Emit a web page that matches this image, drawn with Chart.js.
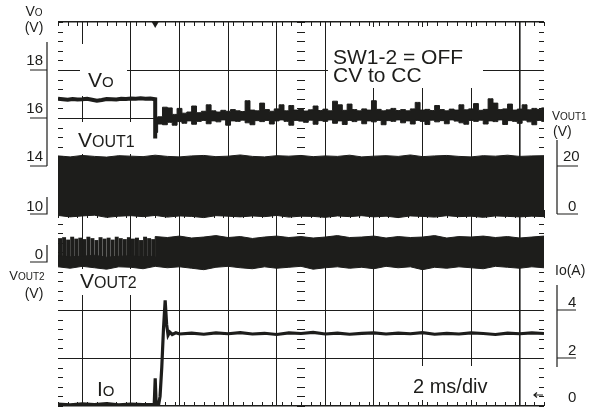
<!DOCTYPE html>
<html>
<head>
<meta charset="utf-8">
<script src="https://cdn.jsdelivr.net/npm/chart.js@4.4.1/dist/chart.umd.min.js"></script>
<style>
  html, body { margin: 0; padding: 0; background: #fff; }
</style>
</head>
<body>
<canvas id="scope" width="589" height="409"></canvas>
<script>
// time base in ms, 2 ms/div, trigger at 0
const tStart = -4, tEnd = 16;

// Vo (V), before the switch-over: one sample each 0.2 ms from -4 ms
const voPre = [16.80, 16.78, 16.76, 16.79, 16.77, 16.78, 16.80, 16.76, 16.72, 16.75,
  16.79, 16.78, 16.77, 16.80, 16.79, 16.81, 16.80, 16.82, 16.80, 16.81, 16.78];
const voDip = 15.15;
// Vo after the switch-over, upper / lower edge of the noisy trace, each 0.2 ms from 0
const voHi = [16.00, 16.05, 16.45, 16.42, 16.15, 16.40, 16.20, 16.25, 16.50, 16.22,
  16.28, 16.55, 16.30, 16.25, 16.32, 16.28, 16.35, 16.30, 16.27, 16.72,
  16.33, 16.30, 16.62, 16.35, 16.28, 16.38, 16.55, 16.30, 16.52, 16.33,
  16.36, 16.29, 16.34, 16.50, 16.31, 16.37, 16.30, 16.70, 16.55, 16.32,
  16.58, 16.35, 16.30, 16.38, 16.33, 16.72, 16.36, 16.30, 16.34, 16.40,
  16.31, 16.35, 16.30, 16.38, 16.65, 16.33, 16.36, 16.31, 16.52, 16.35,
  16.30, 16.37, 16.33, 16.55, 16.34, 16.38, 16.60, 16.32, 16.36, 16.80,
  16.62, 16.35, 16.38, 16.58, 16.33, 16.37, 16.55, 16.34, 16.40, 16.36, 16.42];
const voLo = [15.40, 15.75, 15.72, 15.82, 15.70, 15.85, 15.78, 15.88, 15.74, 15.86,
  15.90, 15.76, 15.88, 15.84, 15.92, 15.70, 15.88, 15.86, 15.91, 15.80,
  15.72, 15.89, 15.85, 15.90, 15.75, 15.88, 15.92, 15.86, 15.70, 15.90,
  15.87, 15.82, 15.91, 15.74, 15.89, 15.86, 15.92, 15.78, 15.88, 15.73,
  15.90, 15.85, 15.91, 15.76, 15.88, 15.84, 15.90, 15.72, 15.89, 15.86,
  15.92, 15.80, 15.88, 15.75, 15.90, 15.86, 15.73, 15.91, 15.84, 15.89,
  15.76, 15.92, 15.87, 15.80, 15.74, 15.90, 15.86, 15.91, 15.75, 15.88,
  15.85, 15.92, 15.73, 15.89, 15.86, 15.78, 15.91, 15.84, 15.72, 15.90, 15.86];
const voStep = 0.2;

// VOUT1 switching band (V), edges each 0.5 ms from -4 ms
const v1Hi = [24.2, 23.8, 24.4, 24.0, 23.7, 24.3, 24.1, 23.9, 24.5, 24.0,
  23.8, 24.2, 24.4, 23.9, 24.1, 24.6, 24.0, 23.8, 24.3, 24.1,
  24.4, 23.9, 24.2, 24.0, 24.5, 23.8, 24.1, 24.3, 24.0, 24.6,
  23.9, 24.2, 24.4, 24.0, 23.8, 24.3, 24.1, 24.5, 24.0, 24.2, 24.3];
const v1Lo = [-0.6, -1.2, -0.8, -0.5, -1.4, -0.9, -0.7, -1.1, -0.6, -1.3,
  -0.8, -1.0, -1.5, -0.7, -0.9, -1.2, -0.8, -1.1, -0.6, -1.3,
  -0.9, -1.0, -1.4, -0.8, -1.1, -0.7, -1.2, -0.9, -1.5, -0.8,
  -1.0, -1.3, -0.7, -1.1, -0.9, -1.4, -0.8, -1.0, -1.2, -0.9, -1.1];
const bandStep = 0.5;

// VOUT2 switching band (V)
const v2Lo = [-1.0, -1.3, -0.9, -1.2, -1.5, -1.0, -1.1, -1.4, -0.9, -1.2,
  -1.0, -1.3, -1.6, -1.1, -0.9, -1.2, -1.4, -1.0, -1.3, -1.1,
  -0.9, -1.5, -1.2, -1.0, -1.3, -1.1, -1.4, -0.9, -1.2, -1.0,
  -1.6, -1.1, -1.3, -1.0, -1.2, -1.4, -0.9, -1.1, -1.3, -1.0, -1.2];
const v2HiPre = [1.3, 1.1, 1.2, 1.4, 1.0, 1.2, 1.3, 1.1, 1.2];
const v2HiPost = [5.3, 5.1, 5.4, 5.0, 5.2, 5.5, 5.1, 5.3, 4.9, 5.2,
  5.4, 5.1, 5.3, 5.0, 5.2, 5.5, 5.1, 5.2, 5.4, 5.0,
  5.3, 5.1, 5.2, 5.5, 5.0, 5.3, 5.2, 5.4, 5.1, 5.3, 5.0, 5.2, 5.4];
// separate pulses before the trigger, 24 of them in the first 4 ms
const v2PulseTop = [4.9, 5.1, 4.6, 5.2, 4.8, 5.0, 4.7, 5.2, 4.9, 4.5,
  5.1, 4.8, 5.0, 4.6, 5.2, 4.9, 4.7, 5.1, 4.8, 5.0, 4.5, 5.2, 4.9, 4.7];
const v2PulseBase = 0.8;
const pulseStep = 4 / 24;

// Io (A)
const ioT = [-4, -3.5, -3, -2.5, -2, -1.5, -1, -0.5, -0.04, 0, 0.04,
  0.14, 0.2, 0.27, 0.34, 0.41, 0.47, 0.53, 0.6, 0.7, 0.85,
  1, 1.5, 2, 2.5, 3, 3.5, 4, 4.5, 5, 5.5, 6, 6.5, 7, 7.5, 8, 8.5, 9, 9.5,
  10, 10.5, 11, 11.5, 12, 12.5, 13, 13.5, 14, 14.5, 15, 15.5, 16];
const ioA = [0.08, 0.05, 0.09, 0.06, 0.1, 0.05, 0.08, 0.06, 0.07, 1.15, 0.06,
  0.05, 0.4, 1.6, 3.2, 4.4, 3.4, 2.95, 3.08, 2.98, 3.05,
  3.0, 3.04, 2.99, 3.05, 3.01, 3.06, 3.0, 3.03, 2.98, 3.05, 3.02, 3.07, 3.0, 3.04, 2.99, 3.03, 3.05, 3.0,
  3.04, 3.01, 3.06, 2.99, 3.03, 3.0, 3.05, 3.02, 2.98, 3.04, 3.01, 3.05, 3.02];

// axis tick labels
const voTicks = [18, 16, 14];
const v2Ticks = [10, 0];
const v1Ticks = [20, 0];
const ioTicks = [4, 2, 0];

const INK = '#1d1d1b';
const FONT = '"Liberation Sans", Arial, sans-serif';

const series = (arr, t0, step) => arr.map((v, i) => ({ x: t0 + i * step, y: v }));

const voPrePts = series(voPre, tStart, voStep);
voPrePts.push({ x: 0, y: voDip });
const v2HiPts = series(v2HiPre, tStart, bandStep).concat(series(v2HiPost, 0, bandStep));
const pulses = v2PulseTop.map((v, i) => ({ x: tStart + (i + 0.5) * pulseStep, y: [v2PulseBase, v] }));
const ioPts = ioT.map((t, i) => ({ x: t, y: ioA[i] }));

const line = (data, axis, extra) => Object.assign({
  type: 'line', data: data, yAxisID: axis, borderColor: INK, backgroundColor: INK,
  borderWidth: 1, pointRadius: 0, tension: 0, fill: false
}, extra || {});

const datasets = [
  line(series(v1Lo, tStart, bandStep), 'yV1'),
  line(series(v1Hi, tStart, bandStep), 'yV1', { fill: '-1' }),
  line(series(v2Lo, tStart, bandStep), 'yV2'),
  line(v2HiPts, 'yV2', { fill: '-1' }),
  { type: 'bar', data: pulses, yAxisID: 'yV2', backgroundColor: INK, barThickness: 3.3, grouped: false },
  line(voPrePts, 'yVo', { borderWidth: 4 }),
  line(series(voLo, 0, voStep), 'yVo', { stepped: 'middle' }),
  line(series(voHi, 0, voStep), 'yVo', { stepped: 'middle', fill: '-1' }),
  line(ioPts, 'yIo', { borderWidth: 3.2 })
];

// white boxes behind the in-plot captions
const masks = [[80, 44, 47, 52], [72, 122, 73, 32], [72, 269, 73, 26], [86, 376, 40, 25],
  [328, 27, 155, 61], [408, 366, 102, 34]];

function parts(ctx, x, y, list, align) {
  let w = 0;
  list.forEach(p => { ctx.font = p[1] + 'px ' + FONT; w += ctx.measureText(p[0]).width; });
  let cx = align === 'right' ? x - w : (align === 'center' ? x - w / 2 : x);
  list.forEach(p => {
    ctx.font = p[1] + 'px ' + FONT;
    ctx.fillText(p[0], cx, y);
    cx += ctx.measureText(p[0]).width;
  });
}

const scopeDecor = {
  id: 'scopeDecor',
  beforeDatasetsDraw(chart) {
    const { ctx, chartArea: a, scales } = chart;
    const sx = scales.x, sy = scales.yVo;
    ctx.save();
    ctx.fillStyle = '#fff';
    masks.forEach(m => ctx.fillRect(m[0], m[1], m[2], m[3]));
    ctx.strokeStyle = INK;
    ctx.lineWidth = 1;
    ctx.beginPath();
    const xc = sx.getPixelForValue(6), yc = sy.getPixelForValue(12);
    for (let k = 0; k <= 50; k++) {
      const px = Math.round(sx.getPixelForValue(tStart + k * 0.4)) + 0.5;
      ctx.moveTo(px, a.top); ctx.lineTo(px, a.top + 4);
      ctx.moveTo(px, a.bottom); ctx.lineTo(px, a.bottom - 4);
      ctx.moveTo(px, yc - 4); ctx.lineTo(px, yc + 4);
    }
    for (let k = 0; k <= 40; k++) {
      const py = Math.round(sy.getPixelForValue(4 + k * 0.4)) + 0.5;
      ctx.moveTo(a.left, py); ctx.lineTo(a.left + 5, py);
      ctx.moveTo(a.right, py); ctx.lineTo(a.right - 5, py);
      ctx.moveTo(xc - 4, py); ctx.lineTo(xc + 4, py);
    }
    ctx.stroke();
    ctx.restore();
  },
  afterDatasetsDraw(chart) {
    const { ctx, chartArea: a, scales } = chart;
    ctx.save();
    ctx.fillStyle = INK;
    ctx.strokeStyle = INK;
    ctx.lineWidth = 1.2;
    ctx.textBaseline = 'alphabetic';

    // trigger mark
    const tx = scales.x.getPixelForValue(0);
    ctx.beginPath();
    ctx.moveTo(tx - 4, a.top - 1); ctx.lineTo(tx + 4, a.top - 1); ctx.lineTo(tx, a.top + 6);
    ctx.closePath(); ctx.fill();

    // ground arrow for Io
    ctx.beginPath();
    ctx.moveTo(a.right - 1, 395); ctx.lineTo(a.right - 10, 395);
    ctx.moveTo(a.right - 7, 392.5); ctx.lineTo(a.right - 10, 395); ctx.lineTo(a.right - 7, 397.5);
    ctx.stroke();

    // left axis: Vo and VOUT2
    const lx = 47;
    ctx.beginPath();
    ctx.moveTo(lx, 42); ctx.lineTo(lx, scales.yVo.getPixelForValue(14));
    voTicks.forEach(v => { const p = scales.yVo.getPixelForValue(v); ctx.moveTo(30, p); ctx.lineTo(lx, p); });
    v2Ticks.forEach(v => {
      const p = scales.yV2.getPixelForValue(v);
      ctx.moveTo(lx, p - 17); ctx.lineTo(lx, p); ctx.lineTo(30, p);
    });
    // right axis: VOUT1 and Io
    const rx = 557;
    const p0 = scales.yV1.getPixelForValue(0);
    ctx.moveTo(rx, 140); ctx.lineTo(rx, p0);
    v1Ticks.forEach(v => { const p = scales.yV1.getPixelForValue(v); ctx.moveTo(rx, p); ctx.lineTo(578, p); });
    ctx.moveTo(rx, 285); ctx.lineTo(rx, 367);
    ioTicks.forEach(v => {
      if (v === 0) return;
      const p = scales.yIo.getPixelForValue(v); ctx.moveTo(rx, p); ctx.lineTo(576, p);
    });
    ctx.stroke();

    ctx.font = '15px ' + FONT;
    ctx.textAlign = 'right';
    voTicks.forEach(v => ctx.fillText(String(v), 43, scales.yVo.getPixelForValue(v) - 5));
    v2Ticks.forEach(v => ctx.fillText(String(v), 43, scales.yV2.getPixelForValue(v) - 3));
    ctx.textAlign = 'left';
    v1Ticks.forEach(v => ctx.fillText(String(v), v === 0 ? 568 : 563, scales.yV1.getPixelForValue(v) - (v === 0 ? 3 : 5)));
    ioTicks.forEach(v => ctx.fillText(String(v), 568, v === 0 ? 402 : scales.yIo.getPixelForValue(v) - 3));

    // axis titles
    parts(ctx, 34, 16, [['V', 14], ['O', 10]], 'center');
    ctx.font = '14px ' + FONT; ctx.textAlign = 'center';
    ctx.fillText('(V)', 34, 32);
    ctx.fillText('(V)', 34, 298);
    ctx.textAlign = 'left';
    parts(ctx, 27, 280, [['V', 13], ['OUT2', 10]], 'center');
    parts(ctx, 552, 120, [['V', 12], ['OUT1', 10]], 'left');
    ctx.font = '14px ' + FONT;
    ctx.fillText('(V)', 553, 136);
    ctx.fillText('Io(A)', 555, 275);

    // in-plot captions
    parts(ctx, 88, 87, [['V', 21], ['O', 15]], 'left');
    parts(ctx, 78, 147, [['V', 21], ['OUT1', 16]], 'left');
    parts(ctx, 80, 288, [['V', 21], ['OUT2', 16]], 'left');
    parts(ctx, 97, 396, [['I', 21], ['O', 15]], 'left');
    ctx.font = '21px ' + FONT;
    ctx.fillText('SW1-2 = OFF', 333, 64);
    ctx.fillText('CV to CC', 333, 82);
    ctx.font = '20px ' + FONT;
    ctx.fillText('2 ms/div', 413, 393);
    ctx.restore();
  }
};

const gridStyle = {
  color: INK,
  lineWidth: c => (c.index === 0 || c.index === 10 || (c.scale.axis === 'y' && c.index === 8)) ? 1.6 : 1,
  drawTicks: false
};

new Chart(document.getElementById('scope'), {
  type: 'line',
  data: { datasets: datasets },
  options: {
    responsive: false,
    devicePixelRatio: 1,
    animation: false,
    events: [],
    layout: { padding: { left: 58, right: 45, top: 22, bottom: 3 } },
    plugins: { legend: { display: false }, tooltip: { enabled: false } },
    scales: {
      x: { type: 'linear', min: tStart, max: tEnd, offset: false,
        ticks: { display: false, stepSize: 2 }, grid: gridStyle, border: { display: false } },
      yVo: { type: 'linear', position: 'left', min: 4, max: 20,
        ticks: { display: false, stepSize: 2 }, grid: gridStyle, border: { display: false } },
      yV1: { type: 'linear', display: false, min: -80, max: 80 },
      yV2: { type: 'linear', display: false, min: -30, max: 50 },
      yIo: { type: 'linear', display: false, min: 0, max: 16 }
    }
  },
  plugins: [scopeDecor]
});
</script>
</body>
</html>
